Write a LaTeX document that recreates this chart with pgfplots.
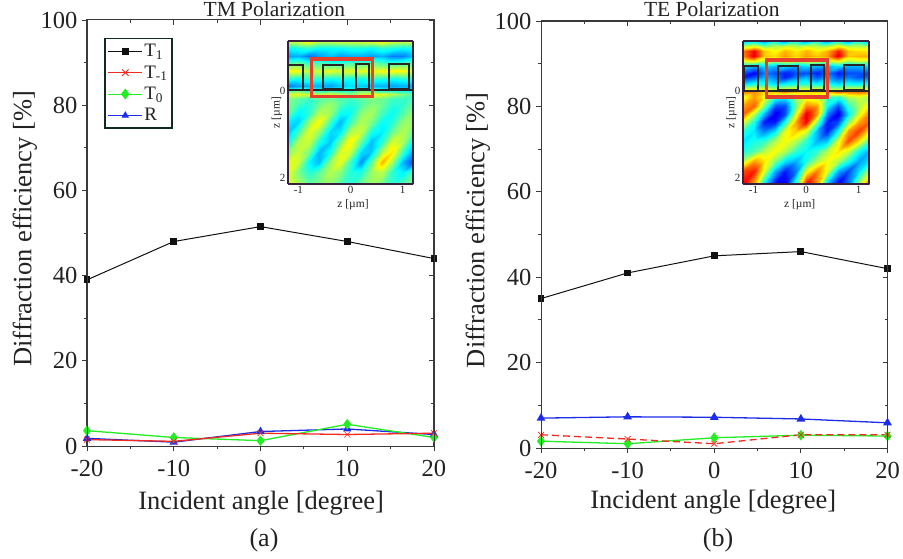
\documentclass[border=0pt]{standalone}
\usepackage{pgfplots}
\pgfplotsset{compat=1.18}
\usepackage{fontspec}
\setmainfont{Liberation Serif}
\definecolor{axc}{HTML}{3A3A3A}
\definecolor{lblc}{HTML}{222222}
\definecolor{t1c}{HTML}{111111}
\definecolor{tmc}{HTML}{F02A20}
\definecolor{t0c}{HTML}{22EE22}
\definecolor{rc}{HTML}{1C2CE8}
\definecolor{insb}{HTML}{3A2040}
\definecolor{redbox}{HTML}{E5402C}
\definecolor{legb}{HTML}{0F2A20}
\pgfplotsset{
  every axis title shift=0pt,
  mainax/.style={
    scale only axis, width=#1, height=426pt,
    xmin=-20, xmax=20, ymin=0, ymax=100,
    xtick={-20,-10,0,10,20}, ytick={0,20,40,60,80,100},
    minor x tick num=1, minor y tick num=1,
    axis line style={axc, line width=1pt},
    every tick/.style={axc, line width=.9pt},
    major tick length=5pt, minor tick length=3pt,
  },
  inset/.style={
    scale only axis, width=125pt, height=143pt,
    xmin=-1.2, xmax=1.2, ymin=-1.15, ymax=2.15, y dir=reverse,
    view={0}{90}, colormap/jet, point meta min=0, point meta max=1,
    xtick={-1,0,1}, ytick={0,2}, major tick length=0pt,
    tick label style={font=\fontsize{11}{12}\selectfont, text=lblc},
    xticklabel style={yshift=1pt}, yticklabel style={xshift=1pt},
    /pgf/number format/assume math mode=true,
    axis line style={insb, line width=1.5pt},
    axis on top,
    label style={font=\fontsize{11.5}{12}\selectfont, text=lblc},
  },
}
\begin{document}
\begin{tikzpicture}
\path[use as bounding box] (0,0) rectangle (903pt,558pt);

% ---------- panel (a)
\begin{axis}[mainax=347pt, at={(87pt,112pt)}, anchor=south west,
  tick align=outside, xtick pos=lower, ytick pos=left,
  tick label style={font=\fontsize{24.5}{26}\selectfont, text=lblc},
  xticklabel style={yshift=-6pt}, yticklabel style={xshift=-1pt},
  /pgf/number format/assume math mode=true,
  xlabel={Incident angle [degree]}, ylabel={Diffraction efficiency [\%]},
  xlabel style={font=\fontsize{26.5}{30}\selectfont, text=lblc, at={(axis description cs:0.502,-0.134)}, anchor=center},
  ylabel style={font=\fontsize{26.5}{30}\selectfont, text=lblc, at={(axis description cs:-0.179,0.51)}, anchor=center},
  title={TM Polarization},
  title style={font=\fontsize{21.5}{24}\selectfont, text=lblc, at={(axis description cs:0.54,1.026)}, anchor=center},
  clip=false,
  legend cell align=left,
  legend image code/.code={\draw[mark repeat=2,mark phase=2,#1] plot coordinates {(0pt,0pt) (17pt,0pt) (34pt,0pt)};},
  legend style={at={(0.049,0.958)}, anchor=north west, draw=legb, line width=1.6pt,
    font=\fontsize{19}{20}\selectfont, inner xsep=3pt, inner ysep=4pt,
    row sep=4.5pt, text=lblc, nodes={inner sep=1.5pt}},
]
\addplot[t1c, line width=1pt, mark=square*, mark size=2.9pt, mark options={solid}] coordinates {(-20,39) (-10,48) (0,51.5) (10,48) (20,44)};
\addlegendentry{T\textsubscript{1}}
\addplot[rc, line width=1.3pt, mark=triangle*, mark size=3.6pt, forget plot] coordinates {(-20,1.8) (-10,0.9) (0,3.4) (10,4) (20,2.7)};
\addlegendimage{tmc, line width=.9pt, mark=x, mark size=4.5pt}
\addlegendentry{T\textsubscript{-1}}
\addlegendimage{t0c, line width=.9pt, mark=diamond*, mark size=4.8pt}
\addlegendentry{T\textsubscript{0}}
\addlegendimage{rc, line width=.9pt, mark=triangle*, mark size=3.4pt}
\addlegendentry{R}
\addplot[t0c, line width=1.3pt, mark=diamond*, mark size=4.3pt, forget plot] coordinates {(-20,3.6) (-10,2) (0,1.25) (10,5.1) (20,2)};
\addplot[tmc, line width=1.3pt, mark=x, mark size=4.2pt, mark options={line width=.7pt}, forget plot] coordinates {(-20,1.5) (-10,1.1) (0,3) (10,2.7) (20,3)};
\end{axis}
\begin{axis}[mainax=347pt, at={(87pt,112pt)}, anchor=south west,
  tick align=inside, xtick pos=upper, ytick pos=right, xticklabels={}, yticklabels={}]
\end{axis}

% ---------- panel (b)
\begin{axis}[mainax=346.5pt, height=427pt, at={(541pt,110pt)}, anchor=south west,
  tick align=outside, xtick pos=lower, ytick pos=left,
  tick label style={font=\fontsize{24.5}{26}\selectfont, text=lblc},
  xticklabel style={yshift=-6pt}, yticklabel style={xshift=-1pt},
  /pgf/number format/assume math mode=true,
  xlabel={Incident angle [degree]}, ylabel={Diffraction efficiency [\%]},
  xlabel style={font=\fontsize{26.5}{30}\selectfont, text=lblc, at={(axis description cs:0.497,-0.127)}, anchor=center},
  ylabel style={font=\fontsize{26.5}{30}\selectfont, text=lblc, at={(axis description cs:-0.182,0.51)}, anchor=center},
  title={TE Polarization},
  title style={font=\fontsize{21.5}{24}\selectfont, text=lblc, at={(axis description cs:0.493,1.028)}, anchor=center},
  clip=false,
]
\addplot[t1c, line width=1pt, mark=square*, mark size=2.9pt] coordinates {(-20,35) (-10,41) (0,45) (10,46) (20,42)};
\addplot[rc, line width=1.3pt, mark=triangle*, mark size=3.8pt] coordinates {(-20,7) (-10,7.3) (0,7.2) (10,6.8) (20,5.9)};
\addplot[t0c, line width=1.3pt, mark=diamond*, mark size=4.3pt] coordinates {(-20,1.6) (-10,1) (0,2.4) (10,3) (20,2.8)};
\addplot[tmc, line width=1.3pt, dash pattern=on 7pt off 4pt, mark=x, mark size=4.2pt, mark options={solid, line width=.7pt}] coordinates {(-20,3.1) (-10,2.1) (0,1) (10,3.1) (20,3.1)};
\end{axis}
\begin{axis}[mainax=346.5pt, height=427pt, at={(541pt,110pt)}, anchor=south west,
  tick align=inside, xtick pos=upper, ytick pos=right, xticklabels={}, yticklabels={}]
\end{axis}

% ---------- inset TM
\begin{axis}[inset, at={(288pt,374pt)}, anchor=south west,
  xlabel={z [µm]}, ylabel={z [µm]},
  xlabel style={at={(axis description cs:0.52,-0.147)},anchor=center},
  ylabel style={at={(axis description cs:-0.09,0.5)},anchor=center},
]
\addplot3[surf, shader=interp, mesh/rows=19, mesh/cols=13] coordinates {
(-1.2,-1.15,.6)(-1,-1.15,.6)(-.8,-1.15,.65)(-.6,-1.15,.58)(-.4,-1.15,.58)(-.2,-1.15,.6)(0,-1.15,.6)(.2,-1.15,.6)(.4,-1.15,.62)(.6,-1.15,.65)(.8,-1.15,.6)(1,-1.15,.58)(1.2,-1.15,.6)

(-1.2,-1,.38)(-1,-1,.4)(-.8,-1,.42)(-.6,-1,.38)(-.4,-1,.38)(-.2,-1,.38)(0,-1,.4)(.2,-1,.4)(.4,-1,.38)(.6,-1,.42)(.8,-1,.4)(1,-1,.38)(1.2,-1,.4)

(-1.2,-.81,.28)(-1,-.81,.3)(-.8,-.81,.24)(-.6,-.81,.28)(-.4,-.81,.32)(-.2,-.81,.28)(0,-.81,.3)(.2,-.81,.3)(.4,-.81,.28)(.6,-.81,.3)(.8,-.81,.25)(1,-.81,.25)(1.2,-.81,.32)

(-1.2,-.65,.45)(-1,-.65,.48)(-.8,-.65,.42)(-.6,-.65,.45)(-.4,-.65,.42)(-.2,-.65,.42)(0,-.65,.45)(.2,-.65,.45)(.4,-.65,.48)(.6,-.65,.45)(.8,-.65,.42)(1,-.65,.45)(1.2,-.65,.45)

(-1.2,-.46,.62)(-1,-.46,.62)(-.8,-.46,.55)(-.6,-.46,.58)(-.4,-.46,.6)(-.2,-.46,.58)(0,-.46,.6)(.2,-.46,.6)(.4,-.46,.6)(.6,-.46,.62)(.8,-.46,.63)(1,-.46,.62)(1.2,-.46,.58)

(-1.2,-.27,.4)(-1,-.27,.38)(-.8,-.27,.42)(-.6,-.27,.4)(-.4,-.27,.38)(-.2,-.27,.4)(0,-.27,.38)(.2,-.27,.38)(.4,-.27,.42)(.6,-.27,.4)(.8,-.27,.38)(1,-.27,.4)(1.2,-.27,.4)

(-1.2,-.12,.25)(-1,-.12,.28)(-.8,-.12,.3)(-.6,-.12,.3)(-.4,-.12,.28)(-.2,-.12,.32)(0,-.12,.35)(.2,-.12,.32)(.4,-.12,.3)(.6,-.12,.3)(.8,-.12,.28)(1,-.12,.3)(1.2,-.12,.28)

(-1.2,0,.45)(-1,0,.5)(-.8,0,.42)(-.6,0,.42)(-.4,0,.45)(-.2,0,.42)(0,0,.42)(.2,0,.5)(.4,0,.48)(.6,0,.42)(.8,0,.42)(1,0,.4)(1.2,0,.38)

(-1.2,.08,.58)(-1,.08,.6)(-.8,.08,.58)(-.6,.08,.56)(-.4,.08,.58)(-.2,.08,.55)(0,.08,.5)(.2,.08,.58)(.4,.08,.6)(.6,.08,.6)(.8,.08,.55)(1,.08,.5)(1.2,.08,.45)

(-1.2,.19,.5)(-1,.19,.46)(-.8,.19,.43)(-.6,.19,.46)(-.4,.19,.48)(-.2,.19,.45)(0,.19,.43)(.2,.19,.46)(.4,.19,.5)(.6,.19,.48)(.8,.19,.43)(1,.19,.43)(1.2,.19,.45)

(-1.2,.27,.5)(-1,.27,.45)(-.8,.27,.41)(-.6,.27,.48)(-.4,.27,.52)(-.2,.27,.46)(0,.27,.41)(.2,.27,.45)(.4,.27,.5)(.6,.27,.48)(.8,.27,.42)(1,.27,.42)(1.2,.27,.48)

(-1.2,.5,.48)(-1,.5,.37)(-.8,.5,.42)(-.6,.5,.55)(-.4,.5,.53)(-.2,.5,.39)(0,.5,.38)(.2,.5,.51)(.4,.5,.54)(.6,.5,.44)(.8,.5,.38)(1,.5,.46)(1.2,.5,.52)

(-1.2,.73,.36)(-1,.73,.33)(-.8,.73,.53)(-.6,.73,.63)(-.4,.73,.44)(-.2,.73,.3)(0,.73,.43)(.2,.73,.55)(.4,.73,.5)(.6,.73,.38)(.8,.73,.41)(1,.73,.52)(1.2,.73,.52)

(-1.2,.96,.32)(-1,.96,.44)(-.8,.96,.6)(-.6,.96,.52)(-.4,.96,.34)(-.2,.96,.36)(0,.96,.55)(.2,.96,.57)(.4,.96,.4)(.6,.96,.36)(.8,.96,.48)(1,.96,.55)(1.2,.96,.47)

(-1.2,1.19,.38)(-1,1.19,.55)(-.8,1.19,.57)(-.6,1.19,.4)(-.4,1.19,.32)(-.2,1.19,.49)(0,1.19,.64)(.2,1.19,.47)(.4,1.19,.31)(.6,1.19,.42)(.8,1.19,.59)(1,1.19,.54)(1.2,1.19,.36)

(-1.2,1.42,.5)(-1,1.42,.57)(-.8,1.42,.49)(-.6,1.42,.3)(-.4,1.42,.39)(-.2,1.42,.59)(0,1.42,.58)(.2,1.42,.34)(.4,1.42,.32)(.6,1.42,.55)(.8,1.42,.65)(1,1.42,.43)(1.2,1.42,.28)

(-1.2,1.65,.6)(-1,1.65,.58)(-.8,1.65,.37)(-.6,1.65,.31)(-.4,1.65,.52)(-.2,1.65,.61)(0,1.65,.44)(.2,1.65,.27)(.4,1.65,.46)(.6,1.65,.7)(.8,1.65,.54)(1,1.65,.3)(1.2,1.65,.2)

(-1.2,1.88,.6)(-1,1.88,.5)(-.8,1.88,.41)(-.6,1.88,.46)(-.4,1.88,.55)(-.2,1.88,.51)(0,1.88,.41)(.2,1.88,.4)(.4,1.88,.52)(.6,1.88,.56)(.8,1.88,.42)(1,1.88,.36)(1.2,1.88,.46)

(-1.2,2.15,.6)(-1,2.15,.55)(-.8,2.15,.47)(-.6,2.15,.5)(-.4,2.15,.52)(-.2,2.15,.45)(0,2.15,.42)(.2,2.15,.48)(.4,2.15,.53)(.6,2.15,.48)(.8,2.15,.42)(1,2.15,.46)(1.2,2.15,.5)
};
\end{axis}

% ---------- inset TE
\begin{axis}[inset, width=126pt, at={(743pt,374pt)}, anchor=south west,
  xlabel={z [µm]}, ylabel={z [µm]},
  xlabel style={at={(axis description cs:0.45,-0.147)},anchor=center},
  ylabel style={at={(axis description cs:-0.09,0.5)},anchor=center},
]
\addplot3[surf, shader=interp, mesh/rows=21, mesh/cols=13] coordinates {
(-1.2,-1.15,.3)(-1,-1.15,.35)(-.8,-1.15,.25)(-.6,-1.15,.4)(-.4,-1.15,.25)(-.2,-1.15,.4)(0,-1.15,.25)(.2,-1.15,.4)(.4,-1.15,.25)(.6,-1.15,.4)(.8,-1.15,.25)(1,-1.15,.4)(1.2,-1.15,.3)

(-1.2,-1.04,.55)(-1,-1.04,.6)(-.8,-1.04,.5)(-.6,-1.04,.55)(-.4,-1.04,.58)(-.2,-1.04,.55)(0,-1.04,.58)(.2,-1.04,.55)(.4,-1.04,.55)(.6,-1.04,.62)(.8,-1.04,.55)(1,-1.04,.55)(1.2,-1.04,.55)

(-1.2,-.92,.76)(-1,-.92,.88)(-.8,-.92,.68)(-.6,-.92,.62)(-.4,-.92,.7)(-.2,-.92,.64)(0,-.92,.7)(.2,-.92,.64)(.4,-.92,.7)(.6,-.92,.85)(.8,-.92,.68)(1,-.92,.66)(1.2,-.92,.65)

(-1.2,-.81,.74)(-1,-.81,.9)(-.8,-.81,.68)(-.6,-.81,.66)(-.4,-.81,.72)(-.2,-.81,.66)(0,-.81,.72)(.2,-.81,.68)(.4,-.81,.72)(.6,-.81,.9)(.8,-.81,.68)(1,-.81,.7)(1.2,-.81,.7)

(-1.2,-.69,.58)(-1,-.69,.63)(-.8,-.69,.56)(-.6,-.69,.54)(-.4,-.69,.58)(-.2,-.69,.56)(0,-.69,.58)(.2,-.69,.58)(.4,-.69,.54)(.6,-.69,.63)(.8,-.69,.54)(1,-.69,.58)(1.2,-.69,.56)

(-1.2,-.58,.35)(-1,-.58,.3)(-.8,-.58,.35)(-.6,-.58,.3)(-.4,-.58,.35)(-.2,-.58,.3)(0,-.58,.35)(.2,-.58,.3)(.4,-.58,.3)(.6,-.58,.35)(.8,-.58,.3)(1,-.58,.3)(1.2,-.58,.35)

(-1.2,-.42,.2)(-1,-.42,.12)(-.8,-.42,.25)(-.6,-.42,.2)(-.4,-.42,.15)(-.2,-.42,.2)(0,-.42,.2)(.2,-.42,.15)(.4,-.42,.25)(.6,-.42,.15)(.8,-.42,.2)(1,-.42,.2)(1.2,-.42,.2)

(-1.2,-.31,.15)(-1,-.31,.2)(-.8,-.31,.3)(-.6,-.31,.25)(-.4,-.31,.15)(-.2,-.31,.25)(0,-.31,.3)(.2,-.31,.2)(.4,-.31,.3)(.6,-.31,.2)(.8,-.31,.25)(1,-.31,.2)(1.2,-.31,.25)

(-1.2,-.15,.35)(-1,-.15,.4)(-.8,-.15,.4)(-.6,-.15,.35)(-.4,-.15,.38)(-.2,-.15,.4)(0,-.15,.42)(.2,-.15,.38)(.4,-.15,.4)(.6,-.15,.35)(.8,-.15,.4)(1,-.15,.38)(1.2,-.15,.4)

(-1.2,-.04,.6)(-1,-.04,.62)(-.8,-.04,.6)(-.6,-.04,.55)(-.4,-.04,.6)(-.2,-.04,.6)(0,-.04,.6)(.2,-.04,.6)(.4,-.04,.55)(.6,-.04,.55)(.8,-.04,.58)(1,-.04,.6)(1.2,-.04,.58)

(-1.2,.02,.74)(-1,.02,.74)(-.8,.02,.66)(-.6,.02,.68)(-.4,.02,.74)(-.2,.02,.68)(0,.02,.66)(.2,.02,.66)(.4,.02,.66)(.6,.02,.76)(.8,.02,.74)(1,.02,.76)(1.2,.02,.72)

(-1.2,.15,.6)(-1,.15,.72)(-.8,.15,.62)(-.6,.15,.42)(-.4,.15,.38)(-.2,.15,.55)(0,.15,.6)(.2,.15,.55)(.4,.15,.42)(.6,.15,.42)(.8,.15,.55)(1,.15,.58)(1.2,.15,.55)

(-1.2,.35,.72)(-1,.35,.78)(-.8,.35,.5)(-.6,.35,.2)(-.4,.35,.2)(-.2,.35,.5)(0,.35,.75)(.2,.35,.72)(.4,.35,.38)(.6,.35,.2)(.8,.35,.42)(1,.35,.55)(1.2,.35,.65)

(-1.2,.54,.78)(-1,.54,.55)(-.8,.54,.3)(-.6,.54,.1)(-.4,.54,.2)(-.2,.54,.6)(0,.54,.9)(.2,.54,.72)(.4,.54,.25)(.6,.54,.1)(.8,.54,.35)(1,.54,.6)(1.2,.54,.75)

(-1.2,.73,.6)(-1,.73,.4)(-.8,.73,.15)(-.6,.73,.15)(-.4,.73,.4)(-.2,.73,.72)(0,.73,.88)(.2,.73,.5)(.4,.73,.15)(.6,.73,.2)(.8,.73,.5)(1,.73,.72)(1.2,.73,.78)

(-1.2,.92,.42)(-1,.92,.35)(-.8,.92,.25)(-.6,.92,.35)(-.4,.92,.6)(-.2,.92,.68)(0,.92,.6)(.2,.92,.3)(.4,.92,.15)(.6,.92,.38)(.8,.92,.72)(1,.92,.82)(1.2,.92,.65)

(-1.2,1.15,.35)(-1,1.15,.4)(-.8,1.15,.42)(-.6,1.15,.55)(-.4,1.15,.62)(-.2,1.15,.55)(0,1.15,.42)(.2,1.15,.3)(.4,1.15,.32)(.6,1.15,.6)(.8,1.15,.8)(1,1.15,.65)(1.2,1.15,.45)

(-1.2,1.38,.4)(-1,1.38,.45)(-.8,1.38,.55)(-.6,1.38,.62)(-.4,1.38,.55)(-.2,1.38,.42)(0,1.38,.38)(.2,1.38,.42)(.4,1.38,.55)(.6,1.38,.65)(.8,1.38,.58)(1,1.38,.38)(1.2,1.38,.3)

(-1.2,1.62,.55)(-1,1.62,.72)(-.8,1.62,.65)(-.6,1.62,.5)(-.4,1.62,.35)(-.2,1.62,.3)(0,1.62,.4)(.2,1.62,.55)(.4,1.62,.62)(.6,1.62,.55)(.8,1.62,.4)(1,1.62,.28)(1.2,1.62,.35)

(-1.2,1.85,.8)(-1,1.85,.85)(-.8,1.85,.6)(-.6,1.85,.3)(-.4,1.85,.15)(-.2,1.85,.25)(0,1.85,.6)(.2,1.85,.75)(.4,1.85,.6)(.6,1.85,.3)(.8,1.85,.2)(1,1.85,.35)(1.2,1.85,.55)

(-1.2,2.15,.88)(-1,2.15,.7)(-.8,2.15,.35)(-.6,2.15,.12)(-.4,2.15,.12)(-.2,2.15,.45)(0,2.15,.88)(.2,2.15,.72)(.4,2.15,.3)(.6,2.15,.1)(.8,2.15,.25)(1,2.15,.55)(1.2,2.15,.8)
};
\end{axis}

% ---------- structure drawn on the insets
\begin{scope}[line width=1.8pt, draw=black!85]
\draw (288pt,{558pt-(35pt+165pt/3)}) -- (413pt,{558pt-(35pt+165pt/3)});
\foreach \a/\b/\c/\d in {25/70/90/165,130/190/90/163,228/268/86/163,328/388/86/163}{
  \draw ({280pt+\a pt/3},{558pt-35pt-\c pt/3}) rectangle ({280pt+\b pt/3},{558pt-35pt-\d pt/3});
}
\draw (743pt,{558pt-(35pt+168pt/3)}) -- (869pt,{558pt-(35pt+168pt/3)});
\foreach \a/\b/\c/\d in {28/68/93/168,130/188/93/165,227/268/90/165,328/386/90/165}{
  \draw ({735pt+\a pt/3},{558pt-35pt-\c pt/3}) rectangle ({735pt+\b pt/3},{558pt-35pt-\d pt/3});
}
\end{scope}
\draw[redbox, line width=3.2pt] ({280pt+95pt/3},{558pt-35pt-72pt/3}) rectangle ({280pt+278pt/3},{558pt-35pt-184pt/3});
\draw[redbox, line width=3.2pt] ({735pt+95pt/3},{558pt-35pt-75pt/3}) rectangle ({735pt+277pt/3},{558pt-35pt-186pt/3});

\node[font=\fontsize{26}{28}\selectfont, text=lblc] at (264pt,18pt) {(a)};
\node[font=\fontsize{26}{28}\selectfont, text=lblc] at (718pt,18pt) {(b)};
\end{tikzpicture}
\end{document}
